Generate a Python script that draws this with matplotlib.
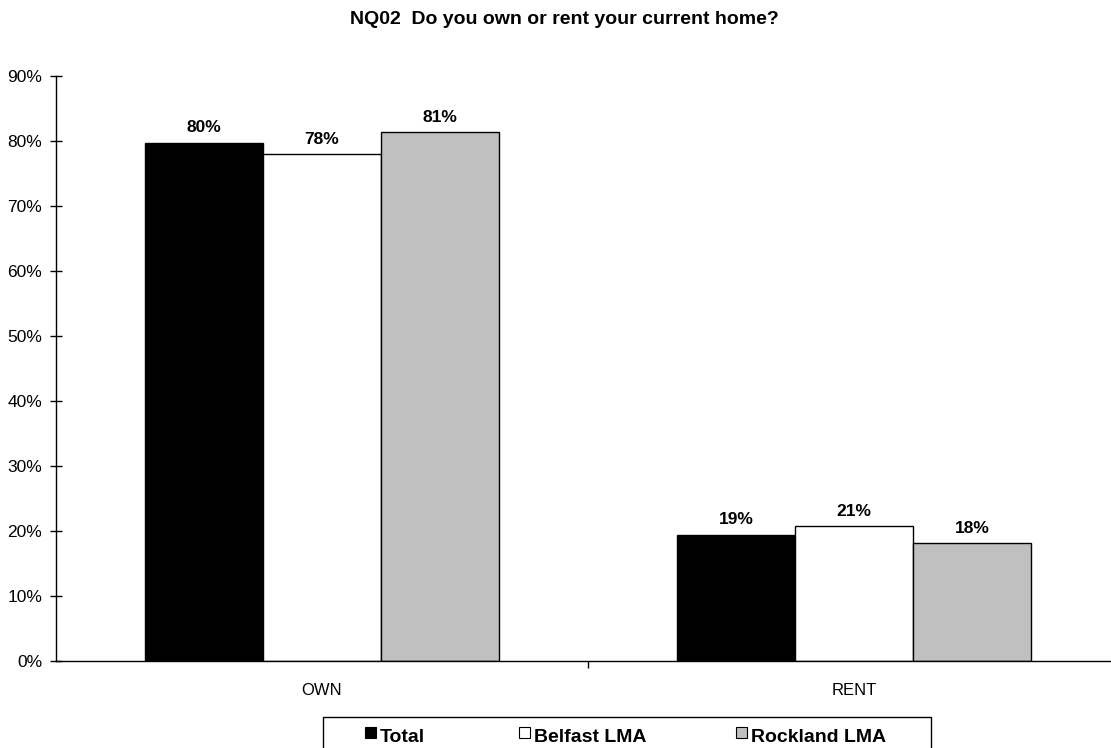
import matplotlib.pyplot as plt
import numpy as np
from matplotlib.patches import Rectangle

plt.rcParams['font.family'] = ['Liberation Sans', 'DejaVu Sans']

CATEGORIES = ['OWN', 'RENT']
SERIES = ['Total', 'Belfast LMA', 'Rockland LMA']
TOTAL = [79.7, 19.4]
BELFAST = [78.0, 20.7]
ROCKLAND = [81.3, 18.1]
LABELS = [['80%', '19%'], ['78%', '21%'], ['81%', '18%']]
COLORS = ['black', 'white', '#c0c0c0']

W, H = 1111, 748
fig = plt.figure(figsize=(W / 100, H / 100), dpi=100)
ax = fig.add_axes([0.0504, 0.1167, 0.9577, 0.7821])

x = np.arange(len(CATEGORIES))
width = 0.222
for i, (vals, color) in enumerate(zip([TOTAL, BELFAST, ROCKLAND], COLORS)):
    pos = x + (i - 1) * width
    ax.bar(pos, vals, width, color=color, edgecolor='black', linewidth=1, zorder=2)
    for px, v, lab in zip(pos, vals, LABELS[i]):
        ax.text(px, v + 1.1, lab, ha='center', va='bottom', fontsize=12.5,
                fontweight='bold')

ax.set_xlim(-0.5, 1.5)
ax.set_ylim(0, 90)
ax.set_yticks(np.arange(0, 91, 10))
ax.set_yticklabels([f'{t}%' for t in range(0, 91, 10)], fontsize=12.5)
ax.tick_params(axis='y', direction='inout', length=8, width=1, pad=6)

ax.set_xticks(x)
ax.set_xticklabels(CATEGORIES, fontsize=12)
ax.tick_params(axis='x', length=0, pad=16)
ax.set_xticks([0.5], minor=True)
ax.tick_params(axis='x', which='minor', direction='out', length=5, width=1)

for s in ['top', 'right']:
    ax.spines[s].set_visible(False)
for s in ['left', 'bottom']:
    ax.spines[s].set_linewidth(1)

fig.text(564 / W, 1 - 19 / H, 'NQ02  Do you own or rent your current home?',
         ha='center', va='center', fontsize=14, fontweight='bold')

# legend box, drawn by hand in pixel positions
fig.add_artist(Rectangle((323 / W, -0.01), (931 - 323) / W, 0.01 + 1 - 717 / H,
                         transform=fig.transFigure, facecolor='white',
                         edgecolor='black', linewidth=1))
marker_x = [365, 519, 736]
for mx, label, color in zip(marker_x, SERIES, COLORS):
    fig.add_artist(Rectangle((mx / W, 1 - 738 / H), 11 / W, 11 / H,
                             transform=fig.transFigure, facecolor=color,
                             edgecolor='black', linewidth=0.8))
    fig.text((mx + 15) / W, 1 - 738 / H, label, ha='left', va='center',
             fontsize=14, fontweight='bold')

fig.savefig('out.png', dpi=100)
